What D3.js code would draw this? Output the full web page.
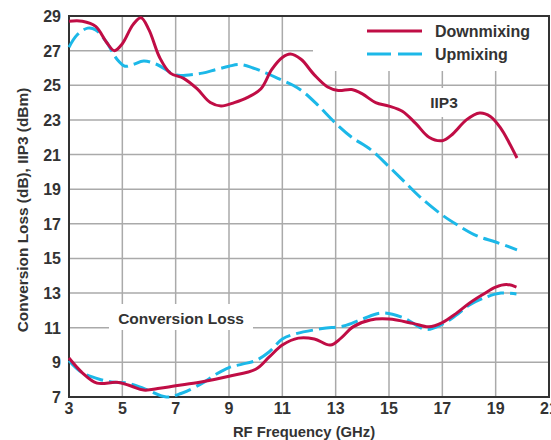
<!DOCTYPE html>
<html>
<head>
<meta charset="utf-8">
<script src="https://cdn.jsdelivr.net/npm/d3@7"></script>
<style>
  body { margin: 0; background: #fff; }
  text { font-family: "Liberation Sans", Arial, sans-serif; font-weight: bold; fill: #333; }
</style>
</head>
<body>
<div class="canvas"></div>
<script>
const dims = { width: 551, height: 440 };
const margin = { left: 69, right: 2, top: 16, bottom: 44 };

// tick values
const xTicks = [3, 5, 7, 9, 11, 13, 15, 17, 19, 21];
const yTicks = [7, 9, 11, 13, 15, 17, 19, 21, 23, 25, 27, 29];

// IIP3 (dBm)
const iip3DownFreq = [3, 3.5, 4, 4.4, 4.7, 5.0, 5.4, 5.7, 6.0, 6.4, 6.8, 7.3, 7.8, 8.3, 8.7, 9.2, 9.7, 10.2, 10.6, 11.0, 11.3, 11.7, 12.2, 12.7, 13.1, 13.6, 14.0, 14.5, 15.0, 15.5, 16.0, 16.5, 17.0, 17.4, 17.9, 18.4, 18.8, 19.2, 19.5, 19.8];
const iip3DownVal  = [28.7, 28.7, 28.4, 27.5, 27.0, 27.4, 28.5, 28.9, 28.2, 26.6, 25.7, 25.4, 24.8, 24.0, 23.8, 24.0, 24.3, 24.8, 25.9, 26.6, 26.8, 26.5, 25.6, 24.9, 24.7, 24.75, 24.5, 24.0, 23.8, 23.5, 22.8, 22.0, 21.8, 22.2, 23.0, 23.4, 23.2, 22.5, 21.7, 20.8];

const iip3UpFreq = [3, 3.3, 3.7, 4.0, 4.4, 4.8, 5.1, 5.4, 5.8, 6.3, 7.0, 7.5, 8.0, 8.5, 9.0, 9.4, 9.9, 10.4, 10.9, 11.4, 11.8, 12.3, 13.0, 13.6, 14.3, 15.0, 15.6, 16.2, 17.0, 17.6, 18.3, 19.0, 19.8];
const iip3UpVal  = [27.2, 27.9, 28.3, 28.2, 27.5, 26.5, 26.1, 26.2, 26.4, 26.2, 25.6, 25.6, 25.7, 25.9, 26.1, 26.2, 26.0, 25.7, 25.35, 25.0, 24.6, 23.9, 22.8, 22.0, 21.3, 20.3, 19.4, 18.5, 17.5, 16.9, 16.3, 15.95, 15.5];

// conversion loss (dB)
const clDownFreq = [3, 3.5, 4.05, 4.8, 5.3, 5.8, 6.4, 7.0, 7.9, 9.0, 10.0, 10.5, 11.0, 11.6, 12.2, 12.8, 13.2, 13.65, 14.3, 15.0, 15.9, 16.5, 17.0, 17.5, 18.0, 18.5, 19.0, 19.4, 19.78];
const clDownVal  = [9.25, 8.4, 7.8, 7.85, 7.65, 7.4, 7.5, 7.65, 7.85, 8.2, 8.6, 9.3, 10.0, 10.4, 10.35, 10.0, 10.4, 11.05, 11.45, 11.5, 11.25, 11.05, 11.3, 11.8, 12.4, 12.9, 13.35, 13.5, 13.35];

const clUpFreq = [3, 3.5, 4.2, 4.7, 5.2, 5.8, 6.65, 7.2, 8.0, 8.5, 9.0, 9.5, 10.0, 10.5, 11.0, 11.5, 12.5, 13.3, 14.0, 14.7, 15.5, 16.4, 17.0, 17.5, 18.0, 18.7, 19.2, 19.78];
const clUpVal  = [9.1, 8.4, 8.0, 7.85, 7.8, 7.5, 7.0, 7.2, 7.8, 8.3, 8.7, 8.9, 9.1, 9.6, 10.35, 10.65, 10.95, 11.1, 11.5, 11.85, 11.6, 10.9, 11.2, 11.7, 12.3, 12.8, 13.0, 12.95];

const downColor = '#c00d45';
const upColor = '#1cb8e8';

const svg = d3.select('.canvas')
  .append('svg')
    .attr('width', dims.width)
    .attr('height', dims.height);

const x = d3.scaleLinear().domain([3, 21]).range([margin.left, 549]);
const y = d3.scaleLinear().domain([7, 29]).range([397, margin.top]);

// grid
const grid = svg.append('g').attr('stroke', '#aaa').attr('stroke-width', 1.5);
grid.selectAll('.vg')
  .data(xTicks.slice(1, -1))
  .enter().append('line')
    .attr('x1', d => x(d)).attr('x2', d => x(d))
    .attr('y1', y(7)).attr('y2', y(29));
grid.selectAll('.hg')
  .data(yTicks.slice(1, -1))
  .enter().append('line')
    .attr('x1', x(3)).attr('x2', x(21))
    .attr('y1', d => y(d)).attr('y2', d => y(d));

// blank areas behind labels and legend
const blank = (x0, y0, w, h) => svg.append('rect')
  .attr('x', x0).attr('y', y0).attr('width', w).attr('height', h).attr('fill', '#fff');
blank(313, 17, 235, 54);
blank(426, 88, 36, 29);
blank(109, 304, 144, 26);

// frame
svg.append('rect')
  .attr('x', x(3)).attr('y', y(29))
  .attr('width', x(21) - x(3)).attr('height', y(7) - y(29))
  .attr('fill', 'none').attr('stroke', '#333').attr('stroke-width', 2);

// curves
const line = d3.line()
  .x(d => x(d[0]))
  .y(d => y(d[1]))
  .curve(d3.curveCatmullRom.alpha(0.5));

const series = [
  { f: iip3UpFreq, v: iip3UpVal, color: upColor, dash: '17,6' },
  { f: clUpFreq, v: clUpVal, color: upColor, dash: '17,6' },
  { f: iip3DownFreq, v: iip3DownVal, color: downColor, dash: null },
  { f: clDownFreq, v: clDownVal, color: downColor, dash: null }
];

svg.selectAll('.series')
  .data(series)
  .enter().append('path')
    .attr('fill', 'none')
    .attr('stroke', d => d.color)
    .attr('stroke-width', 3)
    .attr('stroke-dasharray', d => d.dash)
    .attr('d', d => line(d.f.map((f, i) => [f, d.v[i]])));

// tick labels
svg.selectAll('.xt')
  .data(xTicks)
  .enter().append('text')
    .attr('x', d => x(d))
    .attr('y', 414)
    .attr('text-anchor', 'middle')
    .style('font-size', '16px')
    .text(d => d);

svg.selectAll('.yt')
  .data(yTicks)
  .enter().append('text')
    .attr('x', 61)
    .attr('y', d => y(d) + 6)
    .attr('text-anchor', 'end')
    .style('font-size', '16px')
    .text(d => d);

// axis titles
svg.append('text')
  .attr('x', 304).attr('y', 437)
  .attr('text-anchor', 'middle')
  .style('font-size', '14.8px')
  .text('RF Frequency (GHz)');

svg.append('text')
  .attr('transform', 'translate(28, 210) rotate(-90)')
  .attr('text-anchor', 'middle')
  .style('font-size', '15.4px')
  .text('Conversion Loss (dB), IIP3 (dBm)');

// annotations
svg.append('text')
  .attr('x', 444).attr('y', 108)
  .attr('text-anchor', 'middle')
  .style('font-size', '15.5px')
  .text('IIP3');

svg.append('text')
  .attr('x', 181).attr('y', 324)
  .attr('text-anchor', 'middle')
  .style('font-size', '15.5px')
  .text('Conversion Loss');

// legend
const legend = svg.append('g');
legend.append('line')
  .attr('x1', 367).attr('x2', 422).attr('y1', 31).attr('y2', 31)
  .attr('stroke', downColor).attr('stroke-width', 3);
legend.append('line')
  .attr('x1', 367).attr('x2', 422).attr('y1', 54).attr('y2', 54)
  .attr('stroke', upColor).attr('stroke-width', 3)
  .attr('stroke-dasharray', '24,7');
legend.append('text')
  .attr('x', 435).attr('y', 37)
  .style('font-size', '16px')
  .text('Downmixing');
legend.append('text')
  .attr('x', 435).attr('y', 60)
  .style('font-size', '16px')
  .text('Upmixing');
</script>
</body>
</html>
